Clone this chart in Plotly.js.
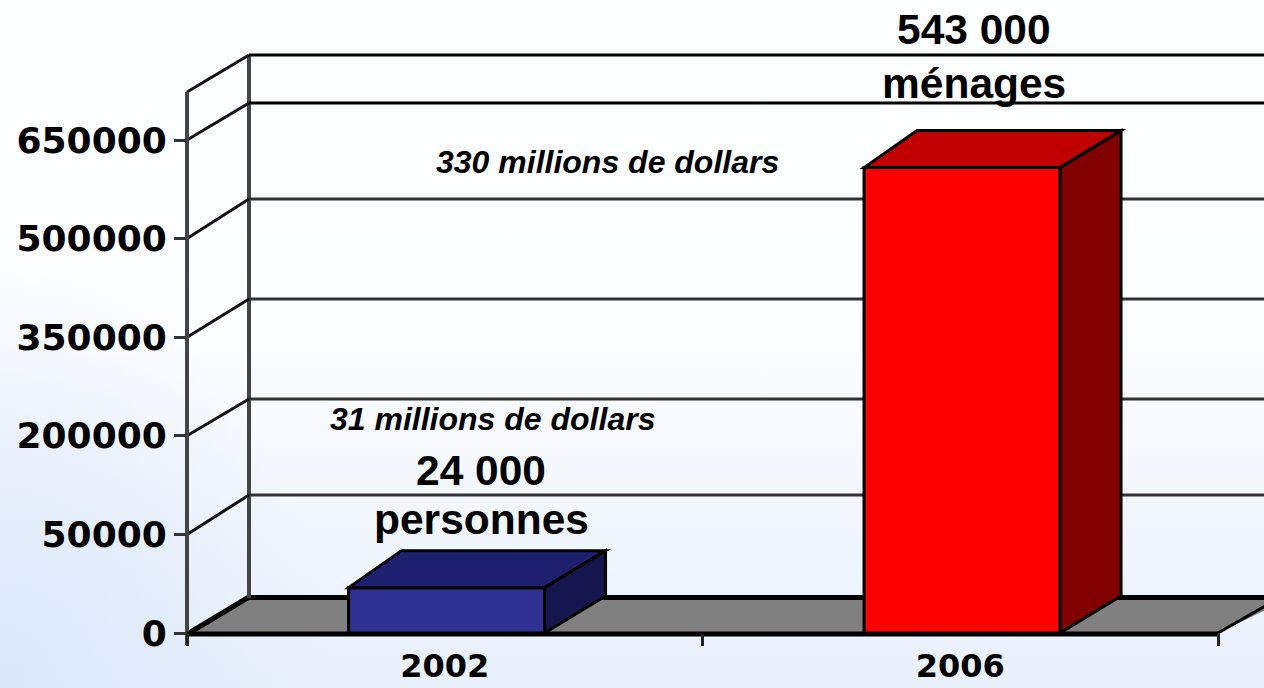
<!DOCTYPE html>
<html>
<head>
<meta charset="utf-8">
<script src="https://cdn.plot.ly/plotly-3.0.1.min.js"></script>
<style>
html,body{margin:0;padding:0;width:1264px;height:688px;overflow:hidden;}
body{background:
 radial-gradient(ellipse 330px 420px at 0% 100%, #dbe7fa 0%, rgba(219,231,250,0) 100%),
 linear-gradient(to bottom, #fcfeff 0%, #fbfdff 50%, #e8f0fc 100%);}
#chart{width:1264px;height:688px;}
</style>
</head>
<body>
<div id="chart"></div>
<script>
// Data
const categories = ['2002', '2006'];
const barValues = [23000, 608000];
const tickLabels = [0, 50000, 200000, 350000, 500000, 650000];
const barColors = ['#2e3092', '#ff0000'];
const topColors = ['#1f1f70', '#c00000'];
const sideColors = ['#16164f', '#800000'];

// The source axis has evenly spaced ticks with uneven labels: piecewise position
function axisPos(v) {
  for (let i = 1; i < tickLabels.length; i++) {
    if (v <= tickLabels[i]) return i - 1 + (v - tickLabels[i - 1]) / (tickLabels[i] - tickLabels[i - 1]);
  }
  return tickLabels.length - 1;
}

const W = 1264, H = 688;
const plot = {l: 187, r: 1218, t: 92, b: 633};
const yUnitPx = 98.6;
const catPx = (plot.r - plot.l) / 2;
const px2paperX = p => (p - plot.l) / (plot.r - plot.l);
const px2paperY = p => (plot.b - p) / (plot.b - plot.t);
const barWidth = 196 / catPx;
const barShift = 1.8 / catPx;
const depthL = 53 / catPx, depthR = 61 / catPx, depthY = 37 / yUnitPx;

const wallRows = [495, 399, 299, 199, 103, 55];
const wallFront = [1, 2, 3, 4, 5].map(i => plot.b - i * yUnitPx).concat([plot.t]);

function paperLine(x0, y0, x1, y1, color, width) {
  return {type: 'line', xref: 'paper', yref: 'paper', layer: 'below',
    x0: px2paperX(x0), y0: px2paperY(y0), x1: px2paperX(x1), y1: px2paperY(y1),
    line: {color: color, width: width}};
}

const shapes = [];
// floor
shapes.push({type: 'path', xref: 'paper', yref: 'paper', layer: 'below',
  path: 'M' + px2paperX(187) + ',' + px2paperY(633) + ' L' + px2paperX(249) + ',' + px2paperY(598) +
        ' L' + px2paperX(1290) + ',' + px2paperY(598) + ' L' + px2paperX(1218) + ',' + px2paperY(633) + ' Z',
  fillcolor: '#808080', line: {width: 0}});
shapes.push(paperLine(189, 633, 249, 597, '#000', 5));
shapes.push(paperLine(249, 597.5, 1264, 597.5, '#000', 5));
shapes.push(paperLine(1218, 633, 1290, 592, '#000', 3));
// back wall
shapes.push(paperLine(249, 55, 249, 598, '#444', 4));
wallRows.forEach((y, i) => {
  const strong = i >= 4;
  shapes.push(paperLine(249, y, 1264, y, strong ? '#000' : '#333', 3));
  shapes.push(paperLine(187, wallFront[i], 249, y, '#111', 3));
});
// axis lines
shapes.push(paperLine(187, plot.t, 187, 645, '#444', 4));
shapes.push(paperLine(187, 634, plot.r, 634, '#000', 5));
// bar depth faces
categories.forEach((c, i) => {
  const h = axisPos(barValues[i]);
  const a = i + barShift - barWidth / 2, b = i + barShift + barWidth / 2;
  shapes.push({type: 'path', xref: 'x', yref: 'y', layer: 'above',
    path: 'M' + a + ',' + h + ' L' + (a + depthL) + ',' + (h + depthY) + ' L' + (b + depthR) + ',' + (h + depthY) + ' L' + b + ',' + h + ' Z',
    fillcolor: topColors[i], line: {color: '#000', width: 3}});
  shapes.push({type: 'path', xref: 'x', yref: 'y', layer: 'above',
    path: 'M' + b + ',' + h + ' L' + (b + depthR) + ',' + (h + depthY) + ' L' + (b + depthR) + ',' + depthY + ' L' + b + ',0 Z',
    fillcolor: sideColors[i], line: {color: '#000', width: 3}});
});

function note(text, x, y, size, italic) {
  return {text: italic ? '<b><i>' + text + '</i></b>' : '<b>' + text + '</b>',
    xref: 'paper', yref: 'paper', x: px2paperX(x), y: px2paperY(y),
    xanchor: 'center', yanchor: 'middle', showarrow: false,
    font: {family: '"Liberation Sans", Arial, sans-serif', size: size, color: '#000'}};
}

const annotations = [
  note('543 000', 974, 29, 42.5),
  note('ménages', 974, 83, 42.5),
  note('330 millions de dollars', 607, 162, 32, true),
  note('31 millions de dollars', 492, 419, 32, true),
  note('24 000', 481, 470, 42.5),
  note('personnes', 481, 519, 42.5)
];

const trace = {
  type: 'bar',
  x: categories,
  y: barValues.map(axisPos),
  width: barWidth,
  offset: barShift - barWidth / 2,
  marker: {color: barColors, line: {color: '#000', width: 3}},
  hoverinfo: 'skip'
};

const layout = {
  width: W, height: H,
  margin: {l: plot.l, r: W - plot.r, t: plot.t, b: H - plot.b, pad: 0},
  paper_bgcolor: 'rgba(0,0,0,0)',
  plot_bgcolor: 'rgba(0,0,0,0)',
  showlegend: false,
  xaxis: {
    type: 'category', categoryorder: 'array', categoryarray: categories,
    range: [-0.5, 1.5], tickson: 'boundaries',
    showgrid: false, zeroline: false, showline: false,
    ticks: 'outside', ticklen: 12, tickwidth: 3, tickcolor: '#222',
    ticklabelstandoff: 11,
    tickfont: {family: '"DejaVu Sans", sans-serif', size: 32, color: '#000', weight: 700}
  },
  yaxis: {
    range: [0, (plot.b - plot.t) / yUnitPx],
    tickmode: 'array', tickvals: tickLabels.map(axisPos), ticktext: tickLabels.map(String),
    showgrid: false, zeroline: false, showline: false,
    ticks: 'outside', ticklen: 12, tickwidth: 3, tickcolor: '#333',
    ticklabelstandoff: 0,
    tickfont: {family: '"DejaVu Sans", sans-serif', size: 36, color: '#000', weight: 700}
  },
  shapes: shapes,
  annotations: annotations
};

Plotly.newPlot('chart', [trace], layout, {displayModeBar: false, staticPlot: true});
</script>
</body>
</html>
